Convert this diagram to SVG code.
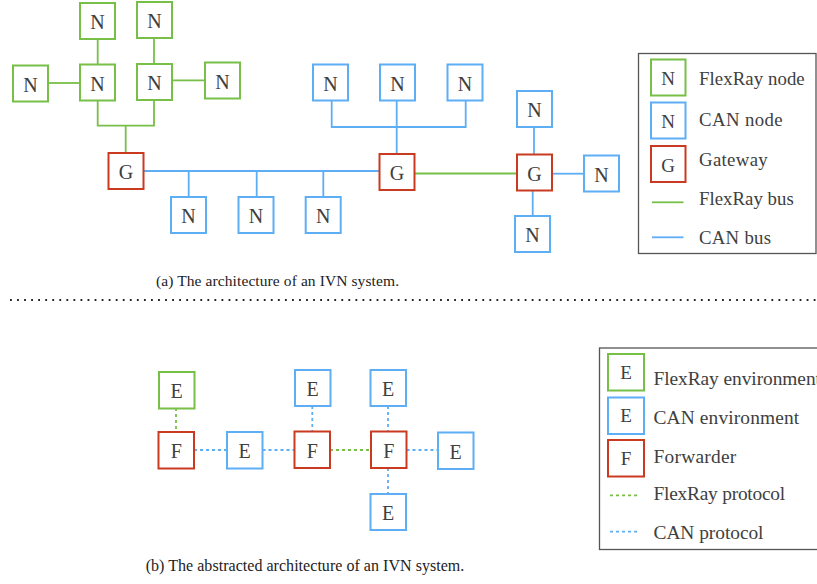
<svg xmlns="http://www.w3.org/2000/svg" width="817" height="584" viewBox="0 0 817 584">
  <style>
    .box { fill: #ffffff; stroke-width: 2; }
    .fr { stroke: #78bf48; }
    .can { stroke: #5eaef6; }
    .gw { stroke: #c93a20; }
    .lbl { font-family: "Liberation Serif", "Times New Roman", serif; font-size: 20px; fill: #404040; text-anchor: middle; }
    .llbl { font-family: "Liberation Serif", "Times New Roman", serif; font-size: 19px; fill: #404040; text-anchor: middle; }
    .ltxt { font-family: "Liberation Serif", "Times New Roman", serif; font-size: 18.8px; fill: #404040; }
    .ltxt2 { font-family: "Liberation Serif", "Times New Roman", serif; font-size: 19.4px; fill: #404040; }
    .cap { font-family: "Liberation Serif", "Times New Roman", serif; fill: #222222; }
    .wire { fill: none; stroke-width: 1.8; }
    .dash { stroke-dasharray: 3 3; }
    .frame { fill: none; stroke: #555555; stroke-width: 1.3; }
  </style>

  <!-- (a) bus architecture: connectors -->
  <g id="connectors-a">
    <!-- FlexRay cluster -->
    <path class="wire fr" d="M97.7 39 V64.5"/>
    <path class="wire fr" d="M154 38 V64"/>
    <path class="wire fr" d="M48 83 H80"/>
    <path class="wire fr" d="M172 80.3 H205"/>
    <path class="wire fr" d="M97.7 100.5 V125.7 H154 V100"/>
    <path class="wire fr" d="M125.7 125.7 V153"/>
    <!-- CAN bus between gateways -->
    <path class="wire can" d="M143.5 171 H379.5"/>
    <path class="wire can" d="M188.7 171 V197"/>
    <path class="wire can" d="M256.7 171 V197"/>
    <path class="wire can" d="M323.3 171 V197"/>
    <!-- CAN cluster above second gateway -->
    <path class="wire can" d="M331.7 100.5 V127 H465.7 V100.5"/>
    <path class="wire can" d="M396.7 100.5 V154"/>
    <!-- FlexRay bus between gateways -->
    <path class="wire fr" d="M414.5 173.5 H517"/>
    <!-- CAN star at third gateway -->
    <path class="wire can" d="M534 127 V154.5"/>
    <path class="wire can" d="M552 173.7 H584"/>
    <path class="wire can" d="M532.7 190.5 V216"/>
  </g>

  <!-- (a) nodes -->
  <g id="fr-n1"><rect class="box fr" x="80" y="3" width="35" height="36"/><text class="lbl" x="97.5" y="29">N</text></g>
  <g id="fr-n2"><rect class="box fr" x="137" y="2" width="35" height="36"/><text class="lbl" x="154.5" y="28">N</text></g>
  <g id="fr-n3"><rect class="box fr" x="13" y="65.5" width="35" height="36"/><text class="lbl" x="30.5" y="91.5">N</text></g>
  <g id="fr-n4"><rect class="box fr" x="80" y="64.5" width="35" height="36"/><text class="lbl" x="97.5" y="90.5">N</text></g>
  <g id="fr-n5"><rect class="box fr" x="137" y="64" width="35" height="36"/><text class="lbl" x="154.5" y="90">N</text></g>
  <g id="fr-n6"><rect class="box fr" x="205" y="62.5" width="35" height="36"/><text class="lbl" x="222.5" y="88.5">N</text></g>

  <g id="gw-1"><rect class="box gw" x="108.5" y="153" width="35" height="36"/><text class="lbl" x="126" y="179">G</text></g>
  <g id="gw-2"><rect class="box gw" x="379.5" y="154" width="35" height="36"/><text class="lbl" x="397" y="180">G</text></g>
  <g id="gw-3"><rect class="box gw" x="517" y="154.5" width="35" height="36"/><text class="lbl" x="534.5" y="180.5">G</text></g>

  <g id="can-n1"><rect class="box can" x="171" y="197" width="35" height="36"/><text class="lbl" x="188.5" y="223">N</text></g>
  <g id="can-n2"><rect class="box can" x="238.5" y="197" width="35" height="36"/><text class="lbl" x="256" y="223">N</text></g>
  <g id="can-n3"><rect class="box can" x="305.7" y="197" width="35" height="36"/><text class="lbl" x="323.2" y="223">N</text></g>
  <g id="can-n4"><rect class="box can" x="313" y="64.5" width="35" height="36"/><text class="lbl" x="330.5" y="90.5">N</text></g>
  <g id="can-n5"><rect class="box can" x="380" y="64.5" width="35" height="36"/><text class="lbl" x="397.5" y="90.5">N</text></g>
  <g id="can-n6"><rect class="box can" x="447.5" y="64.5" width="35" height="36"/><text class="lbl" x="465" y="90.5">N</text></g>
  <g id="can-n7"><rect class="box can" x="517" y="91" width="35" height="36"/><text class="lbl" x="534.5" y="117">N</text></g>
  <g id="can-n8"><rect class="box can" x="584" y="155.5" width="35" height="36"/><text class="lbl" x="601.5" y="181.5">N</text></g>
  <g id="can-n9"><rect class="box can" x="515" y="216" width="35" height="36"/><text class="lbl" x="532.5" y="242">N</text></g>

  <!-- (a) legend -->
  <g id="legend-a">
    <rect class="frame" x="638.5" y="53.5" width="177.5" height="200"/>
    <rect class="box fr" x="651" y="59.5" width="34.5" height="36"/><text class="llbl" x="668" y="84.5">N</text>
    <rect class="box can" x="651" y="102.5" width="34.5" height="36"/><text class="llbl" x="668" y="127.5">N</text>
    <rect class="box gw" x="651" y="146" width="34.5" height="36"/><text class="llbl" x="668" y="171.5">G</text>
    <path class="wire fr" d="M652 202.3 H683.5"/>
    <path class="wire can" d="M652 237.3 H683.5"/>
    <text class="ltxt" x="699" y="85" textLength="105.7">FlexRay node</text>
    <text class="ltxt" x="699" y="126" textLength="83.7">CAN node</text>
    <text class="ltxt" x="699" y="166" textLength="68.7">Gateway</text>
    <text class="ltxt" x="699" y="205" textLength="94.7">FlexRay bus</text>
    <text class="ltxt" x="699" y="244" textLength="72">CAN bus</text>
  </g>

  <text class="cap" x="156" y="286" font-size="15.5" textLength="243">(a) The architecture of an IVN system.</text>

  <!-- separator -->
  <line x1="10" y1="300" x2="816" y2="300" stroke="#222222" stroke-width="1.8" stroke-dasharray="1.8 5.25"/>

  <!-- (b) abstracted architecture: connectors -->
  <g id="connectors-b">
    <path class="wire fr dash" d="M176 408 V432"/>
    <path class="wire can dash" d="M194 450 H227"/>
    <path class="wire can dash" d="M262.5 450 H294.5"/>
    <path class="wire fr dash" d="M330 450 H371"/>
    <path class="wire can dash" d="M406.5 450 H438"/>
    <path class="wire can dash" d="M312.3 406 V431.5"/>
    <path class="wire can dash" d="M388 406 V431.5"/>
    <path class="wire can dash" d="M388 468 V494"/>
  </g>

  <!-- (b) nodes -->
  <g id="env-fr"><rect class="box fr" x="159" y="372" width="35.5" height="36.5"/><text class="lbl" x="176.7" y="398">E</text></g>
  <g id="fwd-1"><rect class="box gw" x="158.5" y="432" width="35.5" height="36.5"/><text class="lbl" x="176.2" y="458">F</text></g>
  <g id="env-can1"><rect class="box can" x="227" y="432" width="35.5" height="36.5"/><text class="lbl" x="244.7" y="458">E</text></g>
  <g id="fwd-2"><rect class="box gw" x="294.5" y="431.5" width="35.5" height="36.5"/><text class="lbl" x="312.2" y="457.5">F</text></g>
  <g id="env-can2"><rect class="box can" x="295" y="370" width="35.5" height="36"/><text class="lbl" x="312.7" y="396">E</text></g>
  <g id="fwd-3"><rect class="box gw" x="371" y="431.5" width="35.5" height="36.5"/><text class="lbl" x="388.7" y="457.5">F</text></g>
  <g id="env-can3"><rect class="box can" x="370.5" y="370" width="35.5" height="36"/><text class="lbl" x="388.2" y="396">E</text></g>
  <g id="env-can4"><rect class="box can" x="438" y="432.5" width="35.5" height="36.5"/><text class="lbl" x="455.7" y="458.5">E</text></g>
  <g id="env-can5"><rect class="box can" x="370.5" y="494" width="35.5" height="36"/><text class="lbl" x="388.2" y="520">E</text></g>

  <!-- (b) legend -->
  <g id="legend-b">
    <rect class="frame" x="599.5" y="348" width="240" height="201.5"/>
    <rect class="box fr" x="608" y="354" width="36" height="36.5"/><text class="llbl" x="626" y="379">E</text>
    <rect class="box can" x="608" y="397.5" width="36" height="36.5"/><text class="llbl" x="626" y="422">E</text>
    <rect class="box gw" x="608" y="440" width="36" height="36.5"/><text class="llbl" x="626" y="465">F</text>
    <path class="wire fr dash" d="M610 495.3 H639"/>
    <path class="wire can dash" d="M610 531.7 H639"/>
    <text class="ltxt2" x="653.5" y="384.5" textLength="167.4">FlexRay environment</text>
    <text class="ltxt2" x="653.5" y="423.5" textLength="145.7">CAN environment</text>
    <text class="ltxt2" x="653.5" y="463" textLength="82.7">Forwarder</text>
    <text class="ltxt2" x="653.5" y="499.5" textLength="131.7">FlexRay protocol</text>
    <text class="ltxt2" x="653.5" y="539" textLength="110">CAN protocol</text>
  </g>

  <text class="cap" x="145.7" y="571" font-size="16" textLength="318.6">(b) The abstracted architecture of an IVN system.</text>
</svg>
